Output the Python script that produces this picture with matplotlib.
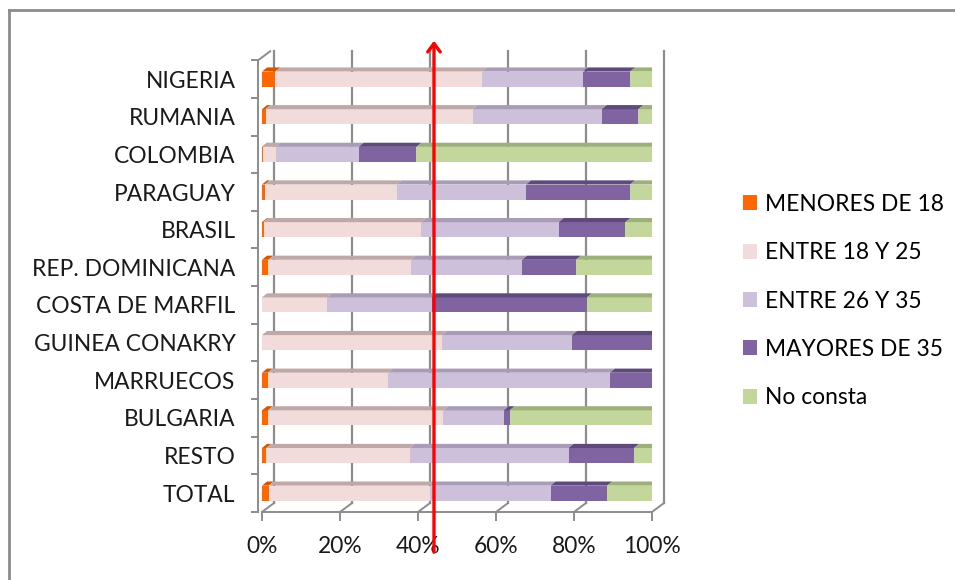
import numpy as np
import matplotlib.pyplot as plt
from matplotlib.patches import Polygon, Patch
from matplotlib import transforms

plt.rcParams['font.family'] = ['Lato', 'DejaVu Sans']

paises = ["NIGERIA", "RUMANIA", "COLOMBIA", "PARAGUAY", "BRASIL", "REP. DOMINICANA",
          "COSTA DE MARFIL", "GUINEA CONAKRY", "MARRUECOS", "BULGARIA", "RESTO", "TOTAL"]

# % por tramo de edad
menores_18 = [3.4, 0.9, 0.3, 0.7, 0.4, 1.6, 0.0, 0.0, 1.5, 1.5, 1.1, 1.7]
entre_18_25 = [52.9, 53.1, 3.2, 33.8, 40.4, 36.5, 16.7, 46.2, 30.8, 45.0, 36.8, 41.3]
entre_26_35 = [26.0, 33.1, 21.3, 33.2, 35.3, 28.6, 26.8, 33.3, 56.9, 15.5, 40.7, 31.0]
mayores_35 = [12.1, 9.4, 14.8, 26.7, 17.1, 13.8, 39.8, 20.5, 10.8, 1.5, 16.8, 14.5]
no_consta = [5.6, 3.5, 60.4, 5.6, 6.8, 19.5, 16.7, 0.0, 0.0, 36.5, 4.6, 11.5]

series = [menores_18, entre_18_25, entre_26_35, mayores_35, no_consta]
nombres = ["MENORES DE 18", "ENTRE 18 Y 25", "ENTRE 26 Y 35", "MAYORES DE 35", "No consta"]
colores = ["#FF6600", "#F2DCDB", "#CCC0DA", "#8064A2", "#C3D69B"]
colores_top = ["#D45500", "#BFA9A8", "#A89CB6", "#5F4A7C", "#9DAF7A"]
lado = "#8E9E6E"

marca = 44.1  # flecha roja

fig = plt.figure(figsize=(9.55, 5.8), dpi=100)
ax = fig.add_axes([262 / 955, 68 / 580, 390 / 955, 460 / 580])
ax.set_xlim(0, 100)
ax.set_ylim(-0.50, 11.72)
for s in ax.spines.values():
    s.set_visible(False)

gris = "#8C8C8C"
ypos = np.arange(len(paises))[::-1]
h = 0.40
ddx = 1.3   # profundidad de la barra (datos)
ddy = 0.11

# pared del fondo y suelo
back = transforms.offset_copy(ax.transData, fig=fig, x=12, y=9, units='dots')
ybot = -0.50
for xv in [0, 20, 40, 60, 80, 100]:
    ax.plot([xv, xv], [ybot, 11.5], color=gris, lw=1.6, transform=back, zorder=1, clip_on=False)
    ax.plot([xv, xv + 3.1], [ybot, ybot + 0.24], color=gris, lw=1.4, zorder=1, clip_on=False)
    ax.plot([xv, xv], [ybot, ybot - 0.22], color=gris, lw=1.4, zorder=1, clip_on=False)
ax.plot([0, 100], [ybot, ybot], color=gris, lw=1.4, zorder=1, clip_on=False)
ax.plot([-1, -1], [ybot, 11.5], color=gris, lw=1.4, zorder=1, clip_on=False)
ax.plot([-1, 2.1], [11.5, 11.74], color=gris, lw=1.4, zorder=1, clip_on=False)
for yt in np.arange(-0.5, 12, 1.0):
    ax.plot([-2.6, -1], [yt, yt], color=gris, lw=1.4, zorder=1, clip_on=False)

# barras apiladas con cara superior
left = np.zeros(len(paises))
for vals, c, ct in zip(series, colores, colores_top):
    vals = np.array(vals)
    ax.barh(ypos, vals, left=left, height=h, color=c, edgecolor='none', zorder=3)
    for y, l, v in zip(ypos, left, vals):
        if v <= 0:
            continue
        top = y + h / 2
        ax.add_patch(Polygon([(l, top), (l + v, top), (l + v + ddx, top + ddy), (l + ddx, top + ddy)],
                             closed=True, facecolor=ct, edgecolor='none', zorder=3))
    left = left + vals
for y, l in zip(ypos, left):
    ax.add_patch(Polygon([(l, y - h / 2), (l, y + h / 2), (l + ddx, y + h / 2 + ddy), (l + ddx, y - h / 2 + ddy)],
                         closed=True, facecolor=lado, edgecolor='none', zorder=3))

ax.set_yticks(ypos)
ax.set_yticklabels(paises, fontsize=16.4, color="#1A1A1A")
ax.set_xticks([0, 20, 40, 60, 80, 100])
ax.set_xticklabels(["0%", "20%", "40%", "60%", "80%", "100%"], fontsize=16.4, color="#1A1A1A")
ax.tick_params(axis='y', length=0, pad=19)
ax.tick_params(axis='x', length=0, pad=17)

# flecha roja
ax.annotate("", xy=(marca, 542 / 580), xycoords=('data', 'figure fraction'),
            xytext=(marca, 25 / 580), textcoords=('data', 'figure fraction'),
            arrowprops=dict(arrowstyle='->,head_width=0.45,head_length=0.6', color='red', lw=2.4),
            zorder=10, annotation_clip=False)

handles = [Patch(facecolor=c, edgecolor='none') for c in colores]
fig.legend(handles, nombres, loc='center left', bbox_to_anchor=(722 / 955, 1 - 301 / 580),
           frameon=False, fontsize=16.4, labelspacing=1.20, handlelength=0.62, handleheight=0.62,
           handletextpad=0.35)

# marco
fig.add_artist(plt.Line2D([9 / 955, 9 / 955], [0, 1 - 10 / 580], color=gris, lw=2))
fig.add_artist(plt.Line2D([9 / 955, 1], [1 - 10 / 580, 1 - 10 / 580], color=gris, lw=2))

fig.savefig("out.png", dpi=100)
